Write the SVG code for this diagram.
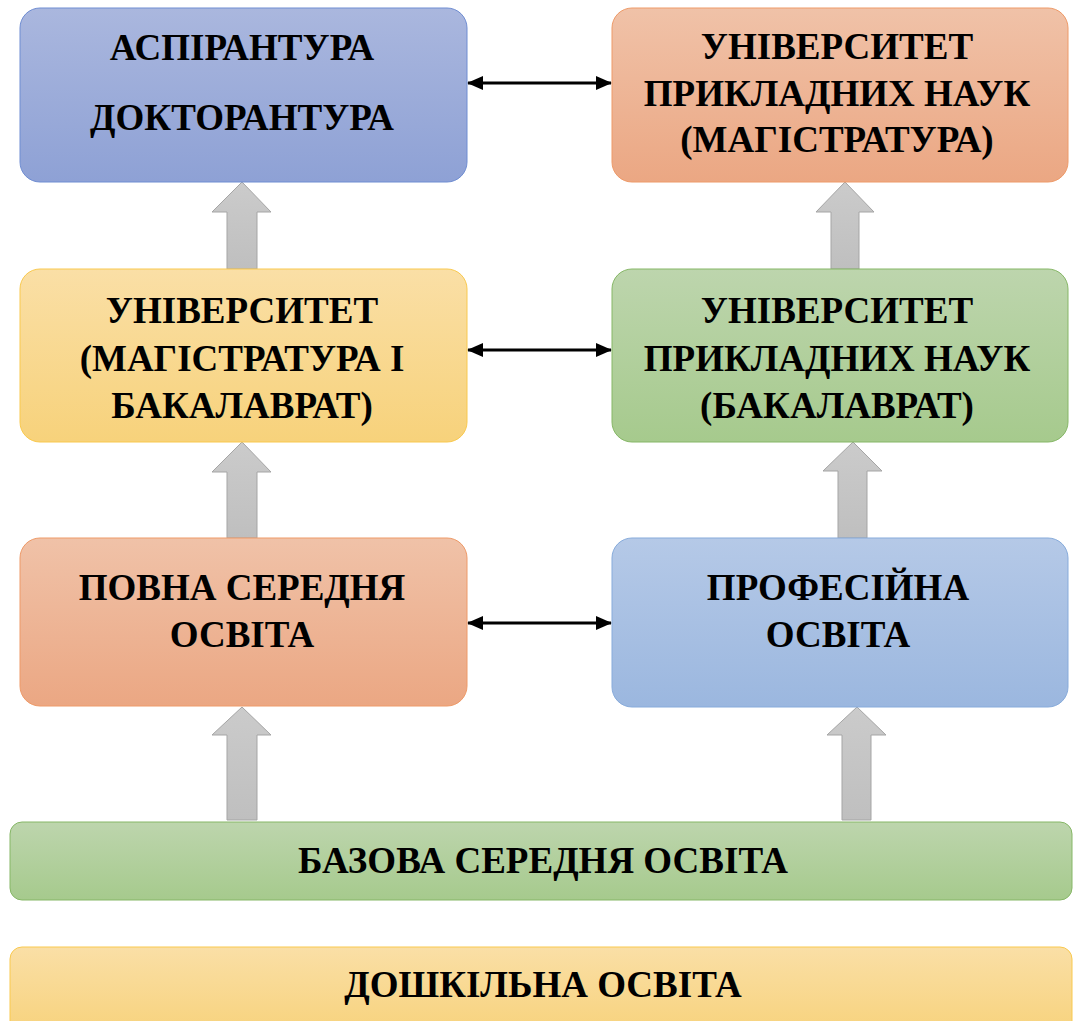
<svg xmlns="http://www.w3.org/2000/svg" width="1073" height="1021" viewBox="0 0 1073 1021">
<defs>
<linearGradient id="gBlue" x1="0" y1="0" x2="0" y2="1"><stop offset="0" stop-color="#aab7de"/><stop offset="1" stop-color="#8ea1d5"/></linearGradient>
<linearGradient id="gOrange" x1="0" y1="0" x2="0" y2="1"><stop offset="0" stop-color="#f0c2a8"/><stop offset="1" stop-color="#eba783"/></linearGradient>
<linearGradient id="gYellow" x1="0" y1="0" x2="0" y2="1"><stop offset="0" stop-color="#fadfa6"/><stop offset="1" stop-color="#f7d27b"/></linearGradient>
<linearGradient id="gGreen" x1="0" y1="0" x2="0" y2="1"><stop offset="0" stop-color="#bdd5ad"/><stop offset="1" stop-color="#a6ca8d"/></linearGradient>
<linearGradient id="gLBlue" x1="0" y1="0" x2="0" y2="1"><stop offset="0" stop-color="#b5c9e7"/><stop offset="1" stop-color="#9bb7df"/></linearGradient>
<linearGradient id="gGrey" x1="0" y1="0" x2="0" y2="1"><stop offset="0" stop-color="#cbcbcb"/><stop offset="1" stop-color="#bfbfbf"/></linearGradient>
<marker id="ah" viewBox="0 0 16 14" refX="15" refY="7" markerWidth="16" markerHeight="14" markerUnits="userSpaceOnUse" orient="auto-start-reverse">
<path d="M0,0 L16,7 L0,14 Z" fill="#000"/>
</marker>
</defs>
<style>
text{font-family:"Liberation Serif","Times New Roman",serif;font-weight:bold;font-size:37px;fill:#000;text-anchor:middle}
.arrow{fill:url(#gGrey);stroke:#a5a5a5;stroke-width:1}
.conn{stroke:#000;stroke-width:3;fill:none;marker-start:url(#ah);marker-end:url(#ah)}
</style>
<rect width="1073" height="1021" fill="#fff"/>

<g id="arrows">
<path class="arrow" d="M242,182 L271,212 L257,212 L257,269 L227,269 L227,212 L212,212 Z"/>
<path class="arrow" d="M845,182 L874,212 L859,212 L859,269 L831,269 L831,212 L816,212 Z"/>
<path class="arrow" d="M242,442 L271,472 L257,472 L257,538 L227,538 L227,472 L212,472 Z"/>
<path class="arrow" d="M853,442 L882,471 L867,471 L867,538 L838,538 L838,471 L823,471 Z"/>
<path class="arrow" d="M242,707 L271,735 L257,735 L257,820 L227,820 L227,735 L212,735 Z"/>
<path class="arrow" d="M857,707 L886,735 L871,735 L871,820 L842,820 L842,735 L827,735 Z"/>
</g>

<g id="connectors">
<line class="conn" x1="468" y1="83" x2="611" y2="83"/>
<line class="conn" x1="468" y1="350" x2="611" y2="350"/>
<line class="conn" x1="468" y1="623" x2="611" y2="623"/>
</g>

<g id="n1">
<rect x="20" y="8" width="447" height="174" rx="20" fill="url(#gBlue)" stroke="#6f8dd2" stroke-width="1"/>
<text x="242" y="60">АСПІРАНТУРА</text>
<text x="242" y="130">ДОКТОРАНТУРА</text>
</g>
<g id="n2">
<rect x="612" y="8" width="456" height="174" rx="20" fill="url(#gOrange)" stroke="#ee9a68" stroke-width="1"/>
<text x="837" y="59">УНІВЕРСИТЕТ</text>
<text x="837" y="106">ПРИКЛАДНИХ НАУК</text>
<text x="837" y="152">(МАГІСТРАТУРА)</text>
</g>
<g id="n3">
<rect x="20" y="269" width="447" height="173" rx="20" fill="url(#gYellow)" stroke="#f9c94e" stroke-width="1"/>
<text x="242" y="323">УНІВЕРСИТЕТ</text>
<text x="242" y="371">(МАГІСТРАТУРА І</text>
<text x="242" y="418">БАКАЛАВРАТ)</text>
</g>
<g id="n4">
<rect x="612" y="269" width="456" height="173" rx="20" fill="url(#gGreen)" stroke="#86b766" stroke-width="1"/>
<text x="837" y="323">УНІВЕРСИТЕТ</text>
<text x="837" y="371">ПРИКЛАДНИХ НАУК</text>
<text x="837" y="418">(БАКАЛАВРАТ)</text>
</g>
<g id="n5">
<rect x="20" y="538" width="447" height="168" rx="20" fill="url(#gOrange)" stroke="#ee9a68" stroke-width="1"/>
<text x="242" y="600">ПОВНА СЕРЕДНЯ</text>
<text x="242" y="647">ОСВІТА</text>
</g>
<g id="n6">
<rect x="612" y="538" width="456" height="169" rx="20" fill="url(#gLBlue)" stroke="#87abdb" stroke-width="1"/>
<text x="838" y="600">ПРОФЕСІЙНА</text>
<text x="838" y="647">ОСВІТА</text>
</g>
<g id="n7">
<rect x="10" y="822" width="1062" height="78" rx="12" fill="url(#gGreen)" stroke="#86b766" stroke-width="1"/>
<text x="543" y="873">БАЗОВА СЕРЕДНЯ ОСВІТА</text>
</g>
<g id="n8">
<rect x="10" y="947" width="1062" height="90" rx="12" fill="url(#gYellow)" stroke="#f9c94e" stroke-width="1"/>
<text x="543" y="997">ДОШКІЛЬНА ОСВІТА</text>
</g>
</svg>
